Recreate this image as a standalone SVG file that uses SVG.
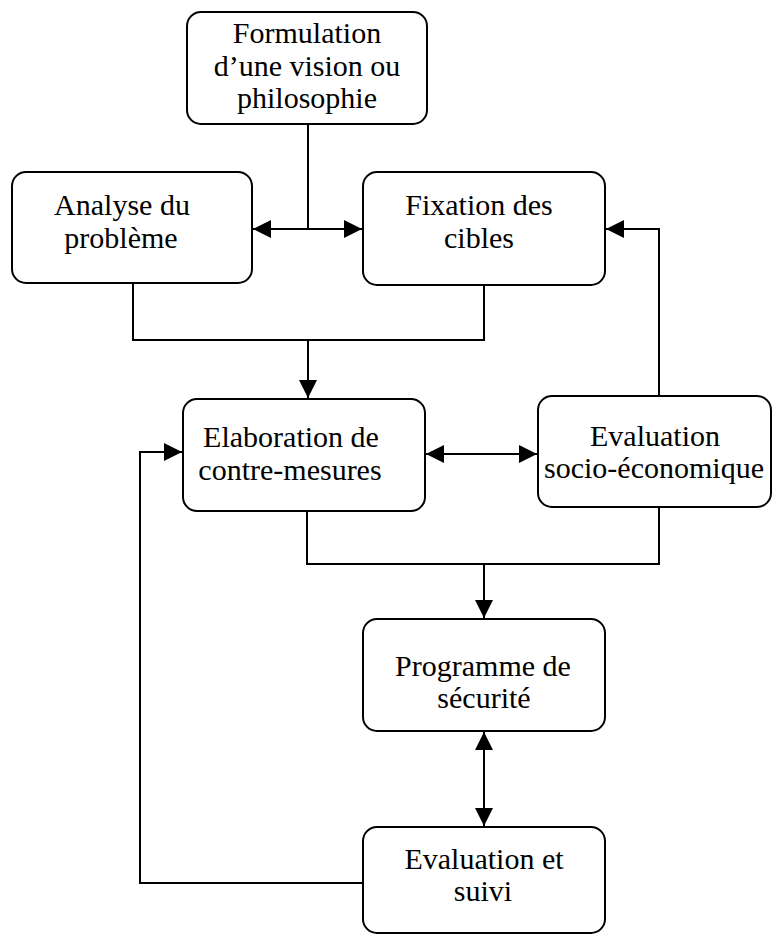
<svg xmlns="http://www.w3.org/2000/svg" width="772" height="935" viewBox="0 0 772 935">
<style>
.box{fill:#fff;stroke:#000;stroke-width:2}
.t{font-family:"Liberation Serif","Times New Roman",serif;font-size:30px;fill:#000;text-anchor:middle}
.c{fill:none;stroke:#000;stroke-width:2}
</style>
<defs>
<marker id="ahb" viewBox="0 0 18 18" refX="18" refY="9" markerWidth="18" markerHeight="18" markerUnits="userSpaceOnUse" orient="auto-start-reverse">
<path d="M0,0 L18,9 L0,18 Z" fill="#000"/>
</marker>
</defs>
<rect width="772" height="935" fill="#fff"/>
<g id="connectors">
<path class="c" d="M308,124 V229"/>
<path class="c" d="M253,229 H362" marker-start="url(#ahb)" marker-end="url(#ahb)"/>
<path class="c" d="M659,396 V229 H606" marker-end="url(#ahb)"/>
<path class="c" d="M133,283 V340 H484 V285"/>
<path class="c" d="M308,340 V398" marker-end="url(#ahb)"/>
<path class="c" d="M426,454 H537" marker-start="url(#ahb)" marker-end="url(#ahb)"/>
<path class="c" d="M307,511 V564 H659 V507"/>
<path class="c" d="M484,564 V618" marker-end="url(#ahb)"/>
<path class="c" d="M484,732 V826" marker-start="url(#ahb)" marker-end="url(#ahb)"/>
<path class="c" d="M363,883 H140 V452 H182" marker-end="url(#ahb)"/>
</g>
<g id="formulation">
<rect class="box" x="187" y="12" width="240" height="112" rx="14"/>
<text class="t" x="307" y="43">Formulation</text>
<text class="t" x="307" y="76">d’une vision ou</text>
<text class="t" x="307" y="108">philosophie</text>
</g>
<g id="analyse">
<rect class="box" x="12" y="172" width="240" height="111" rx="14"/>
<text class="t" x="122" y="215">Analyse du</text>
<text class="t" x="121" y="248">problème</text>
</g>
<g id="fixation">
<rect class="box" x="363" y="172" width="242" height="113" rx="14"/>
<text class="t" x="479" y="215">Fixation des</text>
<text class="t" x="479" y="248">cibles</text>
</g>
<g id="elaboration">
<rect class="box" x="183" y="399" width="242" height="112" rx="14"/>
<text class="t" x="291" y="447">Elaboration de</text>
<text class="t" x="290" y="480">contre-mesures</text>
</g>
<g id="evaluation-socio">
<rect class="box" x="538" y="396" width="233" height="111" rx="14"/>
<text class="t" x="655" y="446">Evaluation</text>
<text class="t" x="654" y="478">socio-économique</text>
</g>
<g id="programme">
<rect class="box" x="363" y="619" width="242" height="112" rx="14"/>
<text class="t" x="483" y="676">Programme de</text>
<text class="t" x="484" y="708">sécurité</text>
</g>
<g id="evaluation-suivi">
<rect class="box" x="363" y="827" width="242" height="106" rx="14"/>
<text class="t" x="484" y="869">Evaluation et</text>
<text class="t" x="483" y="901">suivi</text>
</g>
</svg>
